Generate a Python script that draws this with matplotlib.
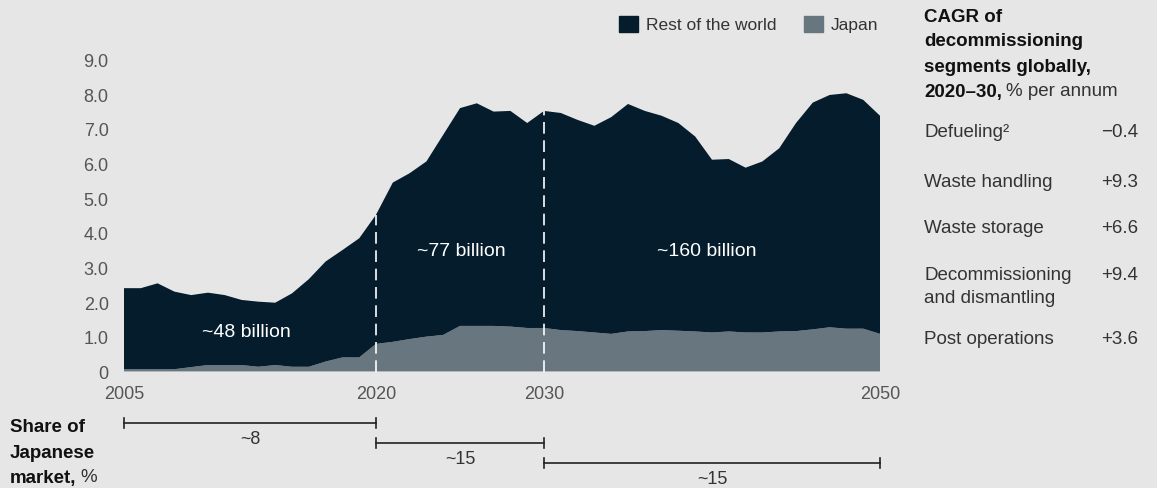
import numpy as np
import matplotlib
matplotlib.use("Agg")
import matplotlib.pyplot as plt
import matplotlib.transforms as mtransforms
from matplotlib.patches import Patch

plt.rcParams['font.family'] = ['Liberation Sans', 'DejaVu Sans']

# decommissioning market, $ billion per year
years = list(range(2005, 2051))
japan = [0.09, 0.09, 0.09, 0.09, 0.15, 0.21, 0.21, 0.21, 0.16, 0.21,
         0.16, 0.16, 0.31, 0.43, 0.43, 0.82, 0.88, 0.96, 1.03, 1.08,
         1.34, 1.34, 1.34, 1.32, 1.28, 1.28, 1.22, 1.19, 1.15, 1.11,
         1.18, 1.19, 1.22, 1.20, 1.18, 1.15, 1.18, 1.15, 1.15, 1.18,
         1.19, 1.24, 1.30, 1.26, 1.26, 1.11]
rest_of_world = [2.34, 2.34, 2.48, 2.24, 2.08, 2.09, 2.02, 1.88, 1.88, 1.80,
                 2.12, 2.53, 2.89, 3.10, 3.44, 3.73, 4.60, 4.79, 5.06, 5.78,
                 6.29, 6.43, 6.19, 6.23, 5.92, 6.27, 6.27, 6.10, 5.97, 6.26,
                 6.57, 6.36, 6.19, 6.00, 5.63, 4.99, 4.98, 4.76, 4.94, 5.29,
                 6.01, 6.55, 6.71, 6.80, 6.61, 6.30]

period_splits = [2020, 2030]
period_labels = ['~48 billion', '~77 billion', '~160 billion']
period_label_pos = [(2012.3, 1.14), (2025.1, 3.48), (2039.7, 3.48)]

share_ranges = [(2005, 2020), (2020, 2030), (2030, 2050)]
share_labels = ['~8', '~15', '~15']

cagr_segments = ['Defueling\u00b2', 'Waste handling', 'Waste storage',
                 'Decommissioning\nand dismantling', 'Post operations']
cagr_values = ['\u22120.4', '+9.3', '+6.6', '+9.4', '+3.6']

navy = '#051c2c'
grey = '#68767f'
bg = '#e6e6e6'

W, H = 1157, 488
fig = plt.figure(figsize=(W / 100, H / 100), dpi=100, facecolor=bg)
ax = fig.add_axes([124 / W, 1 - 372.3 / H, (880 - 124) / W, (372.3 - 60.7) / H])
ax.set_facecolor(bg)

ax.stackplot(years, japan, rest_of_world, colors=[grey, navy], linewidth=0)
ax.axhline(0, color='#c3c6c9', lw=1.2, zorder=3)

totals = np.array(japan) + np.array(rest_of_world)
for yr in period_splits:
    ax.plot([yr, yr], [0, totals[years.index(yr)]], color='white', lw=1.2,
            dashes=(7, 4), zorder=4)

for lab, (x, y) in zip(period_labels, period_label_pos):
    ax.text(x, y, lab, color='white', fontsize=14, ha='center', va='center')

ax.set_xlim(2005, 2050)
ax.set_ylim(0, 9)
ax.set_xticks([2005, 2020, 2030, 2050])
ax.set_yticks(np.arange(0, 10, 1))
ax.set_yticklabels(['0'] + ['%.1f' % v for v in range(1, 10)])
ax.tick_params(length=0, labelsize=13, labelcolor='#555555')
ax.tick_params(axis='y', pad=11)
ax.tick_params(axis='x', pad=10)
for s in ax.spines.values():
    s.set_visible(False)

# legend
handles = [Patch(color=navy, label='Rest of the world'), Patch(color=grey, label='Japan')]
fig.legend(handles=handles, loc='upper right', bbox_to_anchor=(894 / W, 1.0), ncol=2,
           frameon=False, fontsize=12.5, handlelength=1.1, handleheight=1.1,
           handletextpad=0.45, columnspacing=1.6, labelcolor='#333333')

# right panel
tx = 924 / W
vx = 1138 / W
title_lines = ['CAGR of', 'decommissioning', 'segments globally,', '2020\u201330,']
for i, line in enumerate(title_lines):
    tt = fig.text(tx, 1 - (17 + 25 * i) / H, line, fontsize=13.5, fontweight='bold',
                  color='#111111', va='center')
fig.canvas.draw()
bb = tt.get_window_extent()
fig.text((bb.x1 + 4) / W, 1 - 92 / H, '% per annum', fontsize=13.5, color='#333333', va='center')

row_y = [133, 183, 229, 276, 340]
for seg, val, y in zip(cagr_segments, cagr_values, row_y):
    fig.text(tx, 1 - (y - 9) / H, seg, fontsize=13.5, color='#333333', va='top',
             linespacing=1.45)
    fig.text(vx, 1 - (y - 9) / H, val, fontsize=13.5, color='#333333', va='top', ha='right')

# share of Japanese market
fig.text(10 / W, 1 - 427 / H, 'Share of', fontsize=13.5, fontweight='bold', color='#111111', va='center')
fig.text(10 / W, 1 - 453 / H, 'Japanese', fontsize=13.5, fontweight='bold', color='#111111', va='center')
t = fig.text(10 / W, 1 - 478 / H, 'market,', fontsize=13.5, fontweight='bold', color='#111111', va='center')
fig.canvas.draw()
bb = t.get_window_extent()
fig.text((bb.x1 + 4) / W, 1 - 478 / H, '%', fontsize=13.5, color='#333333', va='center')

trans = mtransforms.blended_transform_factory(ax.transData, fig.transFigure)
bar_y = [423, 443, 463]
for (x0, x1), lab, y in zip(share_ranges, share_labels, bar_y):
    yf = 1 - y / H
    ax.plot([x0, x1], [yf, yf], color='#222222', lw=1.2, transform=trans, clip_on=False)
    ax.plot([x0, x0], [yf - 5 / H, yf + 5 / H], color='#222222', lw=1.2, transform=trans, clip_on=False)
    ax.plot([x1, x1], [yf - 5 / H, yf + 5 / H], color='#222222', lw=1.2, transform=trans, clip_on=False)
    ax.text((x0 + x1) / 2, 1 - (y + 17) / H, lab, fontsize=13, color='#333333',
            ha='center', va='center', transform=trans)

fig.savefig('out.png', dpi=100, facecolor=bg)
